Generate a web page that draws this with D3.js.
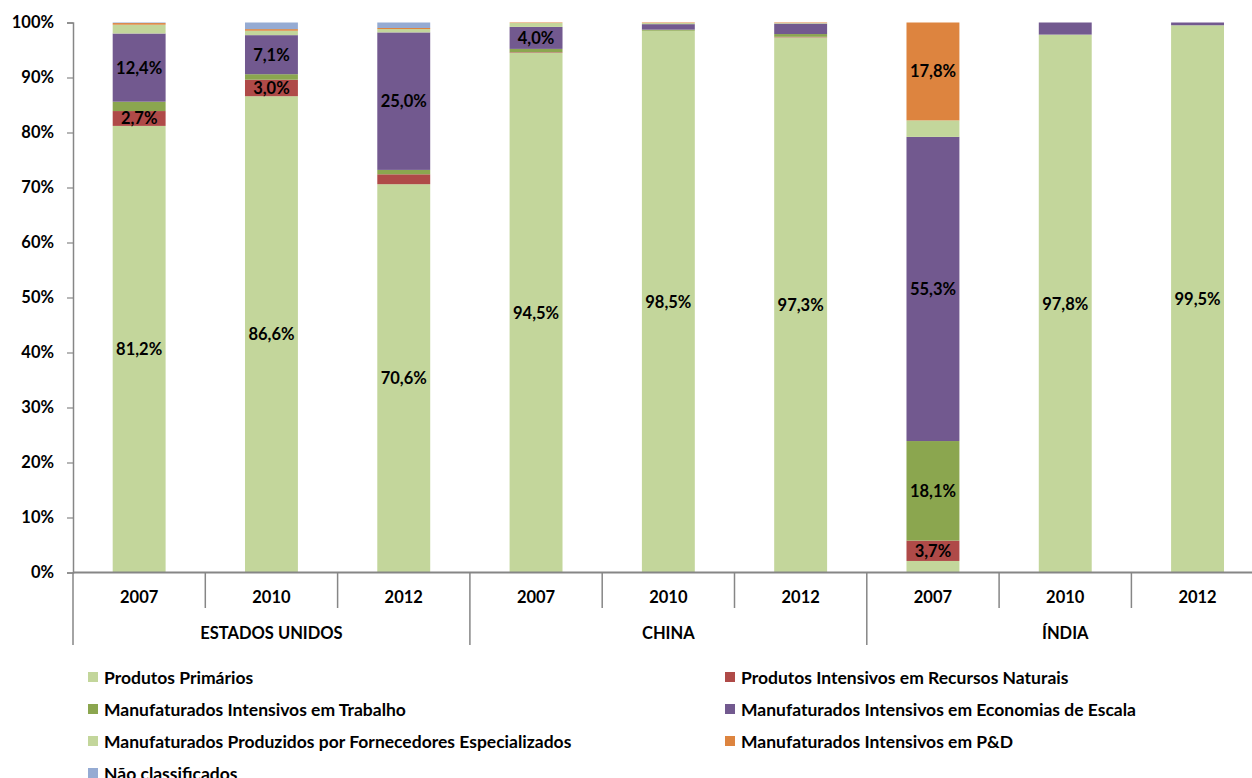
<!DOCTYPE html>
<html>
<head>
<meta charset="utf-8">
<script src="https://cdn.jsdelivr.net/npm/d3@7"></script>
<style>
  html, body { margin: 0; padding: 0; background: #fff; }
  svg { display: block; font-family: Lato, "Open Sans", sans-serif; }
</style>
</head>
<body>
<svg id="chart" width="1252" height="778"></svg>
<script>
// ---- data ----
const years = ["2007", "2010", "2012", "2007", "2010", "2012", "2007", "2010", "2012"];
const countries = ["ESTADOS UNIDOS", "CHINA", "ÍNDIA"];
const yTicks = [0, 10, 20, 30, 40, 50, 60, 70, 80, 90, 100];

const seriesNames = [
  "Produtos Primários",
  "Produtos Intensivos em Recursos Naturais",
  "Manufaturados Intensivos em Trabalho",
  "Manufaturados Intensivos em Economias de Escala",
  "Manufaturados Produzidos por Fornecedores Especializados",
  "Manufaturados Intensivos em P&D",
  "Não classificados"
];
const primarios        = [81.2, 86.6, 70.6, 94.5, 98.5, 97.3,  2.1, 97.8, 99.5];
const recursosNaturais = [ 2.7,  3.0,  1.8,  0.1,  0.0,  0.1,  3.7,  0.0,  0.0];
const trabalho         = [ 1.7,  1.0,  0.8,  0.6,  0.2,  0.5, 18.1,  0.0,  0.0];
const escala           = [12.4,  7.1, 25.0,  4.0,  1.0,  1.9, 55.3,  2.2,  0.5];
const fornecedores     = [ 1.6,  0.8,  0.6,  0.7,  0.2,  0.1,  3.0,  0.0,  0.0];
const pd               = [ 0.3,  0.3,  0.2,  0.1,  0.1,  0.1, 17.8,  0.0,  0.0];
const naoClassificados = [ 0.1,  1.2,  1.0,  0.0,  0.0,  0.0,  0.0,  0.0,  0.0];
const seriesValues = [primarios, recursosNaturais, trabalho, escala, fornecedores, pd, naoClassificados];
const seriesLabeled = [true, true, true, true, false, true, true];

// ---- styles ----
const colors = ["#C3D69B", "#AF4A48", "#8BA64F", "#72598F", "#C3D69B", "#DD843F", "#95ABD3"];
const axisColor = "#868686";
const labelSize = 16.5, legendSize = 17.5;

// ---- layout ----
const svg = d3.select("#chart");
const plotLeft = 73, plotTop = 22.5, plotBottom = 572.5;
const step = 132.3;
const keys = years.map((yr, i) => i + "");
const x = d3.scaleBand().domain(keys)
  .range([plotLeft, plotLeft + step * years.length])
  .paddingInner(0.6).paddingOuter(0.3);
const y = d3.scaleLinear().domain([0, 100]).range([plotBottom, plotTop]);

// stacked data
const rows = keys.map((k, i) => {
  const r = { key: k };
  seriesNames.forEach((s, j) => r[s] = seriesValues[j][i]);
  return r;
});
const stack = d3.stack().keys(seriesNames)(rows);

const g = svg.append("g");
stack.forEach((layer, j) => {
  g.selectAll(null).data(layer).enter().append("rect")
    .attr("x", d => x(d.data.key))
    .attr("width", x.bandwidth())
    .attr("y", d => y(d[1]))
    .attr("height", d => Math.max(0, y(d[0]) - y(d[1])))
    .attr("fill", colors[j]);
});

// data labels
stack.forEach((layer, j) => {
  if (!seriesLabeled[j]) return;
  g.selectAll(null).data(layer.filter(d => d[1] - d[0] >= 2.5)).enter().append("text")
    .attr("x", d => x(d.data.key) + x.bandwidth() / 2)
    .attr("y", d => y((d[0] + d[1]) / 2))
    .attr("text-anchor", "middle")
    .attr("dominant-baseline", "central")
    .attr("font-size", labelSize).attr("font-weight", "bold").attr("fill", "#000")
    .text(d => d3.format(".1f")(d[1] - d[0]).replace(".", ",") + "%");
});

// y axis
const yAxis = svg.append("g").attr("transform", `translate(${plotLeft},0)`)
  .call(d3.axisLeft(y).tickValues(yTicks).tickFormat(d => d + "%").tickSize(6).tickPadding(13));
yAxis.select(".domain").attr("stroke", axisColor).attr("stroke-width", 1.5);
yAxis.selectAll(".tick line").attr("stroke", axisColor).attr("stroke-width", 1.2);
yAxis.selectAll(".tick text").attr("font-size", labelSize).attr("font-weight", "bold")
  .attr("fill", "#000").attr("font-family", "Lato, sans-serif");

// x axis line
svg.append("line").attr("x1", plotLeft).attr("x2", 1252).attr("y1", plotBottom).attr("y2", plotBottom)
  .attr("stroke", axisColor).attr("stroke-width", 2);

// separators
const boundary = i => plotLeft + i * x.step();
for (let i = 0; i < years.length; i++) {
  const isGroup = i % 3 === 0;
  svg.append("line")
    .attr("x1", boundary(i)).attr("x2", boundary(i))
    .attr("y1", plotBottom).attr("y2", isGroup ? 645 : 608)
    .attr("stroke", axisColor).attr("stroke-width", 1.5);
}

// year labels
svg.selectAll(null).data(keys).enter().append("text")
  .attr("x", k => x(k) + x.bandwidth() / 2).attr("y", 597)
  .attr("text-anchor", "middle").attr("dominant-baseline", "central")
  .attr("font-size", labelSize).attr("font-weight", "bold")
  .text((k, i) => years[i]);

// country labels
svg.selectAll(null).data(countries).enter().append("text")
  .attr("x", (c, i) => boundary(i * 3) + 1.5 * x.step()).attr("y", 633)
  .attr("text-anchor", "middle").attr("dominant-baseline", "central")
  .attr("font-size", labelSize).attr("font-weight", "bold")
  .text(c => c);

// legend
const legendCols = [88, 725];
const legendRows = [677, 709, 741, 773];
seriesNames.forEach((s, j) => {
  const cx = legendCols[j % 2], cy = legendRows[Math.floor(j / 2)];
  svg.append("rect").attr("x", cx).attr("y", cy - 5).attr("width", 10).attr("height", 10)
    .attr("fill", colors[j]);
  svg.append("text").attr("x", cx + 16).attr("y", cy)
    .attr("dominant-baseline", "central")
    .attr("font-size", legendSize).attr("font-weight", "bold").text(s);
});
</script>
</body>
</html>
